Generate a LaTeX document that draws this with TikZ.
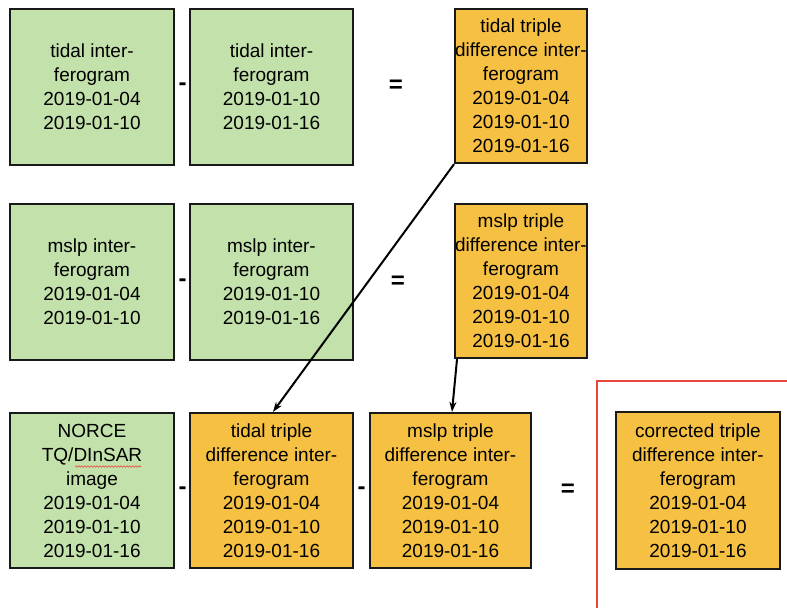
\documentclass[tikz,border=0pt]{standalone}
\usepackage{fontspec}
\setmainfont{Liberation Sans}
\usetikzlibrary{arrows.meta,decorations.pathmorphing}
\definecolor{boxgreen}{HTML}{C3E1AA}
\definecolor{boxorange}{HTML}{F6C142}
\definecolor{framered}{HTML}{E8463A}
\begin{document}
\begin{tikzpicture}[x=1pt,y=-1pt,
  box/.style={draw=black!90,line width=2.3pt,minimum width=#1,minimum height=156pt,
    inner sep=0pt,align=center,font=\fontsize{19}{24}\selectfont},
  gbox/.style={box=#1,fill=boxgreen},
  obox/.style={box=#1,fill=boxorange},
  op/.style={font=\fontsize{24}{24}\selectfont\bfseries,inner sep=0pt},
  conn/.style={line width=2pt,-{Stealth[length=10pt,width=7pt]}}]
\useasboundingbox (0,0) rectangle (787,608);
% row 1
\node[gbox=164pt] (a1) at (92,87) {tidal inter-\\ferogram\\2019-01-04\\2019-01-10};
\node[gbox=163pt] (a2) at (271.5,87) {tidal inter-\\ferogram\\2019-01-10\\2019-01-16};
\node[obox=130pt,minimum height=154pt] (a3) at (521,86) {tidal triple\\difference inter-\\ferogram\\2019-01-04\\2019-01-10\\2019-01-16};
\node[op] (m1) at (182.5,87) {-};
\node[op] (e1) at (396,86) {=};
% row 2
\node[gbox=164pt] (b1) at (92,282) {mslp inter-\\ferogram\\2019-01-04\\2019-01-10};
\node[gbox=163pt] (b2) at (271.5,282) {mslp inter-\\ferogram\\2019-01-10\\2019-01-16};
\node[obox=130pt,minimum height=154pt] (b3) at (521,281) {mslp triple\\difference inter-\\ferogram\\2019-01-04\\2019-01-10\\2019-01-16};
\node[op] (m2) at (182.5,283) {-};
\node[op] (e2) at (398,282) {=};
% row 3
\node[gbox=164pt,minimum height=155pt] (c1) at (92,490.5) {NORCE\\TQ/DInSAR\\image\\2019-01-04\\2019-01-10\\2019-01-16};
\node[obox=163pt,minimum height=155pt] (c2) at (271.5,490.5) {tidal triple\\difference inter-\\ferogram\\2019-01-04\\2019-01-10\\2019-01-16};
\node[obox=161pt,minimum height=155pt] (c3) at (450.5,490.5) {mslp triple\\difference inter-\\ferogram\\2019-01-04\\2019-01-10\\2019-01-16};
\node[obox=164pt,minimum height=157pt] (c4) at (698,490.5) {corrected triple\\difference inter-\\ferogram\\2019-01-04\\2019-01-10\\2019-01-16};
\node[op] (m3) at (182.5,491) {-};
\node[op] (m4) at (361.5,491) {-};
\node[op] (e3) at (568,490) {=};
% spell-check squiggle under DInSAR
\draw[framered,line width=0.6pt,decorate,decoration={snake,amplitude=0.8pt,segment length=3pt}]
  ([xshift=-17pt,yshift=24pt]c1.center) -- ([xshift=49pt,yshift=24pt]c1.center);
% red frame
\coordinate (rf1) at (787,381);
\coordinate (rf2) at (597,381);
\coordinate (rf3) at (597,608);
\draw[framered,line width=2.2pt] (rf1) -- (rf2) -- (rf3);
% connectors
\draw[conn] (a3.south west) -- ([xshift=1.5pt]c2.north);
\draw[conn] ([xshift=3pt]b3.south west) -- ([xshift=1.5pt]c3.north);
\end{tikzpicture}
\end{document}
